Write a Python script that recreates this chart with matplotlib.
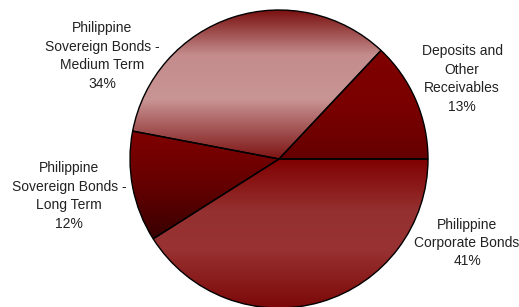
import numpy as np
import matplotlib
matplotlib.use('Agg')
import matplotlib.pyplot as plt
from matplotlib.colors import LinearSegmentedColormap

labels = ['Deposits and\nOther\nReceivables', 'Philippine\nSovereign Bonds -\nMedium Term',
          'Philippine\nSovereign Bonds -\nLong Term', 'Philippine\nCorporate Bonds']
shares = [13, 34, 12, 41]
# gradient stops (position from top, colour) for each slice
grads = [[(0, '#800000'), (0.5, '#7a0000'), (1, '#650000')],
         [(0, '#7a1010'), (0.3, '#c48c8c'), (0.6, '#c99494'), (1, '#7e1414')],
         [(0, '#800000'), (0.5, '#650000'), (1, '#380000')],
         [(0, '#800000'), (0.35, '#953030'), (0.6, '#993333'), (1, '#7c0808')]]
label_xy = [(462, 228), (102, 251), (69, 111), (467, 64)]

plt.rcParams['font.family'] = ['Liberation Sans', 'DejaVu Sans']

fig = plt.figure(figsize=(5.19, 3.07), dpi=100)
ax = fig.add_axes([0, 0, 1, 1])
cx, cy, r = 279, 148, 149

wedges, _ = ax.pie(shares, startangle=0, counterclock=True, center=(cx, cy), radius=r,
                   wedgeprops=dict(edgecolor='black', linewidth=1.0, facecolor='none'))

for w, g in zip(wedges, grads):
    ext = w.get_path().get_extents(w.get_patch_transform())
    # colormap runs bottom -> top, so flip positions
    cmap = LinearSegmentedColormap.from_list('g', [(1 - p, c) for p, c in g[::-1]])
    grad = np.linspace(0, 1, 256).reshape(-1, 1)
    im = ax.imshow(grad, cmap=cmap, origin='lower', aspect='auto',
                   extent=[ext.x0, ext.x1, ext.y0, ext.y1], zorder=0.5)
    im.set_clip_path(w)
    w.set_zorder(1)

for lab, s, (x, y) in zip(labels, shares, label_xy):
    ax.text(x, y, f'{lab}\n{s}%', ha='center', va='center', fontsize=10,
            color='#222222', linespacing=1.4)

ax.set_xlim(0, 519)
ax.set_ylim(0, 307)
ax.set_aspect('auto')
ax.axis('off')
fig.savefig('out.png', dpi=100)
